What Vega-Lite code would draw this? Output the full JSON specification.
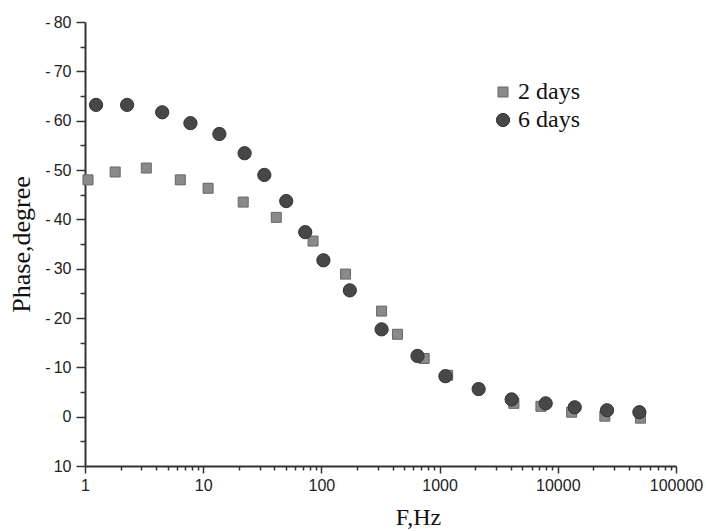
{
  "$schema": "https://vega.github.io/schema/vega-lite/v6.json",
  "autosize": "none",
  "width": 591,
  "height": 444,
  "padding": {"left": 85, "top": 22, "right": 30, "bottom": 65},
  "background": "white",
  "config": {
    "view": {"stroke": null},
    "axis": {"grid": false, "domainColor": "#333", "domainWidth": 2, "tickColor": "#333", "tickWidth": 1.5, "labelFont": "Liberation Sans", "labelFontSize": 16, "labelColor": "#222", "titleFont": "Liberation Serif", "titleFontWeight": "normal", "titleColor": "#111"}
  },
  "data": {"values": [
    {"f": 1.06, "phase": -48.0, "series": "2 days"},
    {"f": 1.8, "phase": -49.6, "series": "2 days"},
    {"f": 3.3, "phase": -50.4, "series": "2 days"},
    {"f": 6.4, "phase": -48.0, "series": "2 days"},
    {"f": 11, "phase": -46.3, "series": "2 days"},
    {"f": 21.8, "phase": -43.5, "series": "2 days"},
    {"f": 41.5, "phase": -40.4, "series": "2 days"},
    {"f": 85, "phase": -35.6, "series": "2 days"},
    {"f": 160, "phase": -28.9, "series": "2 days"},
    {"f": 323, "phase": -21.4, "series": "2 days"},
    {"f": 440, "phase": -16.7, "series": "2 days"},
    {"f": 740, "phase": -11.8, "series": "2 days"},
    {"f": 1170, "phase": -8.4, "series": "2 days"},
    {"f": 4250, "phase": -2.7, "series": "2 days"},
    {"f": 7200, "phase": -2.1, "series": "2 days"},
    {"f": 13100, "phase": -0.9, "series": "2 days"},
    {"f": 25000, "phase": -0.1, "series": "2 days"},
    {"f": 50000, "phase": 0.3, "series": "2 days"},
    {"f": 1.24, "phase": -63.2, "series": "6 days"},
    {"f": 2.27, "phase": -63.2, "series": "6 days"},
    {"f": 4.5, "phase": -61.7, "series": "6 days"},
    {"f": 7.8, "phase": -59.5, "series": "6 days"},
    {"f": 13.7, "phase": -57.3, "series": "6 days"},
    {"f": 22.4, "phase": -53.4, "series": "6 days"},
    {"f": 32.9, "phase": -49.0, "series": "6 days"},
    {"f": 50.4, "phase": -43.7, "series": "6 days"},
    {"f": 73, "phase": -37.4, "series": "6 days"},
    {"f": 104, "phase": -31.7, "series": "6 days"},
    {"f": 174, "phase": -25.6, "series": "6 days"},
    {"f": 323, "phase": -17.7, "series": "6 days"},
    {"f": 650, "phase": -12.3, "series": "6 days"},
    {"f": 1120, "phase": -8.2, "series": "6 days"},
    {"f": 2140, "phase": -5.6, "series": "6 days"},
    {"f": 4070, "phase": -3.5, "series": "6 days"},
    {"f": 7900, "phase": -2.7, "series": "6 days"},
    {"f": 13900, "phase": -1.9, "series": "6 days"},
    {"f": 26100, "phase": -1.3, "series": "6 days"},
    {"f": 49000, "phase": -0.9, "series": "6 days"}
  ]},
  "layer": [
    {
      "mark": {"type": "point", "filled": true, "opacity": 1, "strokeWidth": 1},
      "encoding": {
        "x": {"field": "f", "type": "quantitative", "scale": {"type": "log", "domain": [1, 100000], "nice": false},
          "axis": {"orient": "bottom", "values": [1, 10, 100, 1000, 10000, 100000], "format": "d", "tickSize": 7, "labelPadding": 4, "title": "F,Hz", "titleFontSize": 24, "titleX": 333, "titleY": 58, "titleBaseline": "alphabetic", "labelFlush": false}},
        "y": {"field": "phase", "type": "quantitative", "scale": {"domain": [-80, 10], "reverse": true, "nice": false},
          "axis": {"orient": "left", "values": [-80, -70, -60, -50, -40, -30, -20, -10, 0, 10], "tickSize": 9, "labelPadding": 5, "labelExpr": "datum.value < 0 ? '-\u2009' + abs(datum.value) : datum.label", "title": "Phase,degree", "titleFontSize": 26, "titleX": -56, "titleY": 222, "titleBaseline": "alphabetic"}},
        "color": {"field": "series", "type": "nominal", "scale": {"domain": ["2 days", "6 days"], "range": ["#8a8a8a", "#474747"]},
          "legend": {"orient": "none", "legendX": 406, "legendY": 58, "title": null, "labelFont": "Liberation Serif", "labelFontSize": 24, "labelColor": "#111", "symbolSize": 150, "rowPadding": 4, "labelOffset": 3, "symbolStrokeWidth": 1}},
        "shape": {"field": "series", "type": "nominal", "scale": {"domain": ["2 days", "6 days"], "range": ["square", "circle"]}},
        "size": {"field": "series", "type": "nominal", "scale": {"domain": ["2 days", "6 days"], "range": [100, 175]}, "legend": null},
        "stroke": {"field": "series", "type": "nominal", "scale": {"domain": ["2 days", "6 days"], "range": ["#666666", "#333333"]}, "legend": null}
      }
    },
    {
      "mark": {"type": "point", "opacity": 0},
      "encoding": {
        "x": {"field": "f", "type": "quantitative",
          "axis": {"orient": "bottom", "values": [2,3,4,5,6,7,8,9,20,30,40,50,60,70,80,90,200,300,400,500,600,700,800,900,2000,3000,4000,5000,6000,7000,8000,9000,20000,30000,40000,50000,60000,70000,80000,90000], "labels": false, "tickSize": 4, "title": null, "domain": false}},
        "y": {"field": "phase", "type": "quantitative",
          "axis": {"orient": "left", "values": [-75, -65, -55, -45, -35, -25, -15, -5, 5], "labels": false, "tickSize": 5, "title": null, "domain": false}}
      }
    }
  ],
  "resolve": {"axis": {"x": "independent", "y": "independent"}}
}
